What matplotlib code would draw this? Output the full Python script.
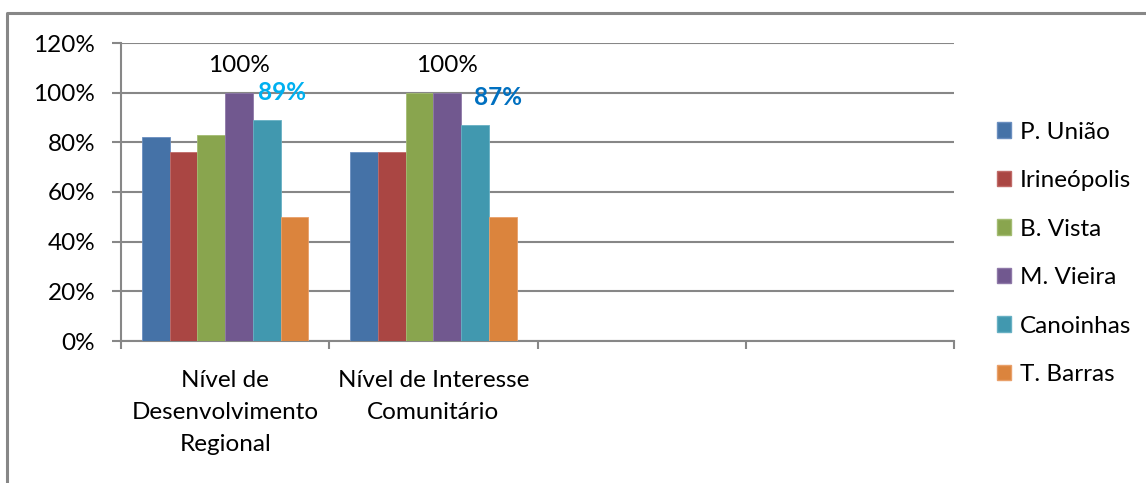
import matplotlib.pyplot as plt
import numpy as np
from matplotlib.lines import Line2D
from matplotlib.patches import Patch

plt.rcParams['font.family'] = ['Lato', 'DejaVu Sans']

categories = ["Nível de\nDesenvolvimento\nRegional", "Nível de Interesse\nComunitário", "", ""]
series = ["P. União", "Irineópolis", "B. Vista", "M. Vieira", "Canoinhas", "T. Barras"]
values = {
    "P. União":    [82, 76],
    "Irineópolis": [76, 76],
    "B. Vista":    [83, 100],
    "M. Vieira":   [100, 100],
    "Canoinhas":   [89, 87],
    "T. Barras":   [50, 50],
}
colors = ["#4572A7", "#AA4643", "#89A54E", "#71588F", "#4198AF", "#DB843D"]
edges = ["#6A8EBF", "#C06A67", "#A3BC72", "#8E78A8", "#67B0C3", "#E9A06A"]

FS = 17.5

fig = plt.figure(figsize=(11.46, 4.83), dpi=100)
ax = fig.add_axes([121 / 1146, 1 - 341 / 483, (954 - 121) / 1146, (341 - 43) / 483])

# outer chart frame (only the top and left edges fall inside the image)
fig.add_artist(Line2D([7 / 1146, 7 / 1146, 1.0], [0.0, 1 - 13 / 483, 1 - 13 / 483],
                      transform=fig.transFigure, color="#878787", lw=2.2))

n = len(series)
width = 0.8 / n
x = np.arange(len(categories))
for i, name in enumerate(series):
    vals = values[name]
    pos = x[:len(vals)] - 0.4 + width * (i + 0.5)
    ax.bar(pos, vals, width, color=colors[i], edgecolor=edges[i], linewidth=0.6,
           label=name, zorder=3)

# value labels
def bar_x(cat, idx):
    return x[cat] - 0.4 + width * (idx + 0.5)

mv = series.index("M. Vieira")
cn = series.index("Canoinhas")
for c in range(2):
    ax.text(bar_x(c, mv), values["M. Vieira"][c] + 11, f"{values['M. Vieira'][c]}%",
            ha="center", va="center", fontsize=FS, color="black")
ax.text(bar_x(0, cn) + 0.072, values["Canoinhas"][0] + 11, f"{values['Canoinhas'][0]}%",
        ha="center", va="center", fontsize=FS, fontweight="bold", color="#00B0F0")
ax.text(bar_x(1, cn) + 0.11, values["Canoinhas"][1] + 11, f"{values['Canoinhas'][1]}%",
        ha="center", va="center", fontsize=FS, fontweight="bold", color="#0070C0")

ax.set_xlim(-0.5, len(categories) - 0.5)
ax.set_ylim(0, 120)
ax.set_yticks(np.arange(0, 121, 20))
ax.set_yticklabels([f"{v}%" for v in range(0, 121, 20)], fontsize=FS)
ax.yaxis.grid(True, color="#878787", lw=1.5, zorder=0)
ax.set_axisbelow(True)

ax.set_xticks(np.arange(-0.5, len(categories), 1.0))
ax.set_xticklabels([])
ax.set_xticks(x, minor=True)
ax.set_xticklabels(categories, minor=True, fontsize=FS, linespacing=1.65)
ax.tick_params(axis="x", which="minor", length=0, pad=21)
ax.tick_params(axis="x", which="major", length=6, width=1.5, color="#878787")
ax.tick_params(axis="y", length=6.5, width=1.5, color="#878787", pad=12)

for s in ["top", "right"]:
    ax.spines[s].set_visible(False)
for s in ["left", "bottom"]:
    ax.spines[s].set_color("#878787")
    ax.spines[s].set_linewidth(1.5)

handles = [Patch(facecolor=colors[i], edgecolor=edges[i], label=series[i]) for i in range(n)]
fig.legend(handles=handles, loc="upper left", bbox_to_anchor=(987 / 1146, 1 - 112 / 483),
           frameon=False, fontsize=FS, handlelength=0.6, handleheight=0.6,
           handletextpad=0.35, labelspacing=1.13, borderaxespad=0)

fig.savefig("out.png", dpi=100)
